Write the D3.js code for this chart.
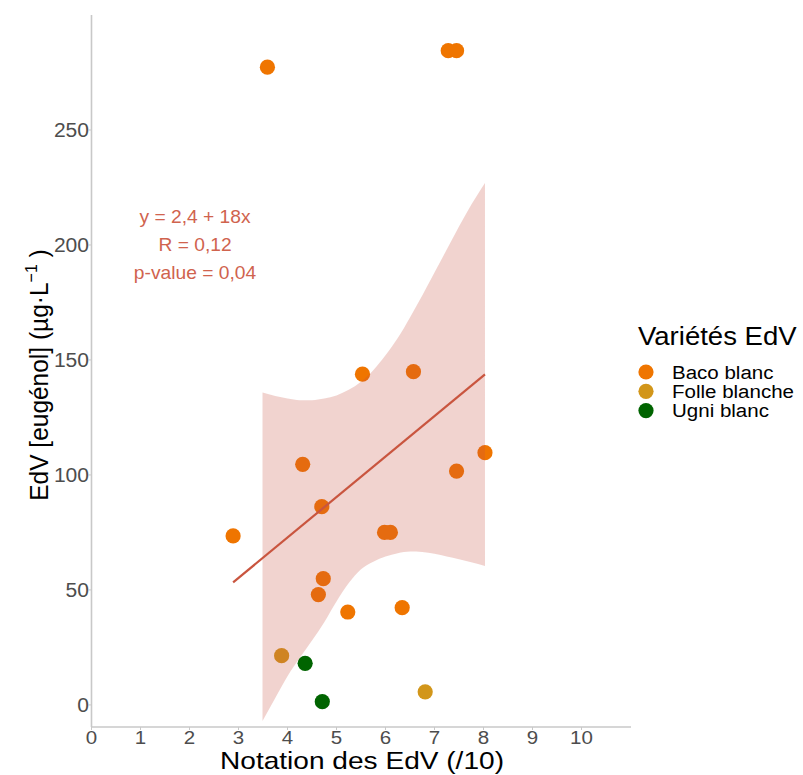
<!DOCTYPE html>
<html>
<head>
<meta charset="utf-8">
<script src="https://cdn.jsdelivr.net/npm/d3@7"></script>
<style>
  html, body { margin: 0; padding: 0; background: #fff; }
  svg { display: block; }
  text { font-family: "Liberation Sans", Arial, sans-serif; }
</style>
</head>
<body>
<svg id="chart" width="803" height="775"></svg>
<script>
// ---- data ----
const varieties = ["Baco blanc", "Folle blanche", "Ugni blanc"];
const varietyColors = ["#EF7500", "#D2961A", "#006400"];

const bacoX = [3.59, 7.28, 7.45, 5.53, 6.57, 4.31, 8.03, 7.45, 4.70, 5.98, 6.10, 2.89, 4.73, 4.63, 5.23, 6.34];
const bacoY = [277.3, 284.5, 284.5, 143.8, 144.9, 104.6, 109.7, 101.7, 86.2, 75.0, 75.0, 73.5, 54.9, 48.0, 40.4, 42.3];
const folleX = [3.88, 6.81];
const folleY = [21.4, 5.7];
const ugniX = [4.36, 4.71];
const ugniY = [18.1, 1.4];

// regression line (y = intercept + slope * x) and its x range
const fitIntercept = 2.4;
const fitSlope = 17.6;
const fitXRange = [2.89, 8.03];

// confidence band
const bandX =     [3.49, 3.75, 4.0, 4.25, 4.5, 4.75, 5.0, 5.25, 5.5, 5.75, 6.0, 6.25, 6.5, 6.75, 7.0, 7.25, 7.5, 7.75, 8.03];
const bandUpper = [135.8, 134.3, 133.2, 132.5, 132.5, 133.2, 134.6, 137.0, 140.5, 145.5, 152.0, 159.5, 168.5, 178.0, 188.0, 198.0, 208.0, 217.5, 227.0];
const bandLower = [-7.0, 3.0, 12.5, 20.5, 28.0, 36.0, 45.0, 53.0, 59.0, 62.3, 64.5, 66.0, 66.7, 66.5, 65.7, 64.5, 63.3, 62.0, 60.4];

const xTicks = [0, 1, 2, 3, 4, 5, 6, 7, 8, 9, 10];
const yTicks = [0, 50, 100, 150, 200, 250];
const annotationLines = ["y = 2,4 + 18x", "R = 0,12", "p-value = 0,04"];

// ---- drawing ----
const svg = d3.select("#chart");
const SX = 1.08; // slight horizontal text stretch seen in the reference

const x = d3.scaleLinear().domain([0, 11.01]).range([91.5, 631]);
const y = d3.scaleLinear().domain([-9.6, 300]).range([727, 15]);

const axisColor = "#c8c8c8";
const tickTextColor = "#4d4d4d";

// points
const pts = [];
bacoX.forEach((v, i) => pts.push({x: v, y: bacoY[i], k: 0}));
folleX.forEach((v, i) => pts.push({x: v, y: folleY[i], k: 1}));
ugniX.forEach((v, i) => pts.push({x: v, y: ugniY[i], k: 2}));

svg.append("g").selectAll("circle").data(pts).join("circle")
  .attr("cx", d => x(d.x)).attr("cy", d => y(d.y)).attr("r", 7.6)
  .attr("fill", d => varietyColors[d.k]);

// band (drawn over points, semi transparent)
const band = bandX.map((v, i) => ({x: v, lo: bandLower[i], hi: bandUpper[i]}));
svg.append("path").datum(band)
  .attr("d", d3.area().x(d => x(d.x)).y0(d => y(d.lo)).y1(d => y(d.hi)).curve(d3.curveMonotoneX))
  .attr("fill", "rgb(199,79,63)").attr("fill-opacity", 0.25);

// fit line
svg.append("line")
  .attr("x1", x(fitXRange[0])).attr("y1", y(fitIntercept + fitSlope * fitXRange[0]))
  .attr("x2", x(fitXRange[1])).attr("y2", y(fitIntercept + fitSlope * fitXRange[1]))
  .attr("stroke", "#C9553F").attr("stroke-width", 2.2);

// axes lines
svg.append("line").attr("x1", 91.5).attr("x2", 91.5).attr("y1", 15).attr("y2", 727)
  .attr("stroke", axisColor).attr("stroke-width", 1.6);
svg.append("line").attr("x1", 91.5).attr("x2", 631).attr("y1", 727).attr("y2", 727)
  .attr("stroke", axisColor).attr("stroke-width", 1.6);

function stretchedText(g, px, py, str, size, anchor, color, sx) {
  return g.append("text")
    .attr("transform", `translate(${px},${py}) scale(${sx || SX},1)`)
    .attr("text-anchor", anchor)
    .attr("font-size", size)
    .attr("fill", color)
    .text(str);
}

// x ticks
const gx = svg.append("g");
xTicks.forEach(t => {
  gx.append("line").attr("x1", x(t)).attr("x2", x(t)).attr("y1", 727).attr("y2", 730)
    .attr("stroke", axisColor).attr("stroke-width", 1);
  stretchedText(gx, x(t), 744, String(t), 19, "middle", tickTextColor);
});
// y ticks
const gy = svg.append("g");
yTicks.forEach(t => {
  gy.append("line").attr("x1", 88.5).attr("x2", 91.5).attr("y1", y(t)).attr("y2", y(t))
    .attr("stroke", axisColor).attr("stroke-width", 1);
  stretchedText(gy, 89, y(t) + 7, String(t), 19.5, "end", tickTextColor);
});

// axis titles
stretchedText(svg, 362, 768.5, "Notation des EdV (/10)", 24, "middle", "#000", 1.17);

const yt = svg.append("text")
  .attr("transform", "translate(48,375) rotate(-90) scale(1," + SX + ")")
  .attr("text-anchor", "middle").attr("font-size", 24.5).attr("fill", "#000");
yt.append("tspan").text("EdV [eugénol] (µg·L");
yt.append("tspan").attr("font-size", 16).attr("dy", -10).text("−1");
yt.append("tspan").attr("dy", 10).text(" )");

// annotation
const ga = svg.append("g");
annotationLines.forEach((s, i) => {
  stretchedText(ga, 195, 223 + i * 28, s, 17.8, "middle", "#D0634E");
});

// legend
const gl = svg.append("g");
stretchedText(gl, 638, 345, "Variétés EdV", 25.5, "start", "#000");
varieties.forEach((v, i) => {
  const cy = 372 + i * 19.3;
  gl.append("circle").attr("cx", 646).attr("cy", cy).attr("r", 7.6).attr("fill", varietyColors[i]);
  stretchedText(gl, 672, cy + 6.5, v, 19, "start", "#000");
});
</script>
</body>
</html>
